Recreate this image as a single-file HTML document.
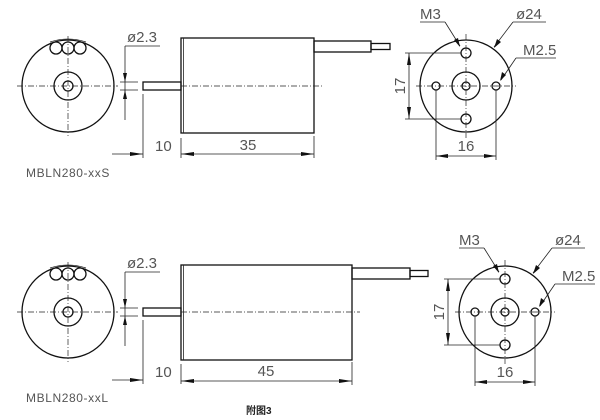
<!DOCTYPE html>
<html><head><meta charset="utf-8"><style>
html,body{margin:0;padding:0;background:#fff;width:600px;height:420px;overflow:hidden}
svg{display:block}
text{font-family:"Liberation Sans","Noto Sans CJK SC",sans-serif;fill:#333}
.l{stroke:#111;stroke-width:1.3;fill:none}
.t{stroke:#222;stroke-width:0.8;fill:none}
.d{stroke:#222;stroke-width:0.7;fill:none;stroke-dasharray:6,2,1,2}
.a{fill:#111;stroke:none}
.lab{font-size:15px;fill:#555}
.mod{font-size:12px;fill:#555;letter-spacing:0.6px}
</style></head><body>
<svg width="600" height="420" viewBox="0 0 600 420" xmlns="http://www.w3.org/2000/svg">
<defs>
<g id="front">
  <circle cx="68" cy="0" r="46" class="l"/>
  <circle cx="68" cy="0" r="14" class="l"/>
  <circle cx="68" cy="0" r="5" class="l"/>
  <circle cx="56" cy="-38" r="6" class="l"/>
  <circle cx="68" cy="-38" r="6" class="l"/>
  <circle cx="80" cy="-38" r="6" class="l"/>
  <path d="M50,-44 Q68,-50 86,-44" class="t"/>
  <line x1="68" y1="-50" x2="68" y2="50" class="d"/>
  <line x1="17" y1="0" x2="118" y2="0" class="d"/>
  <line x1="125" y1="-40" x2="125" y2="34" class="t"/>
  <line x1="125" y1="-40" x2="160" y2="-40" class="t"/>
  <line x1="120" y1="-4" x2="138" y2="-4" class="t"/>
  <line x1="120" y1="4" x2="138" y2="4" class="t"/>
  <polygon points="125,-4 123,-13 127,-13" class="a"/>
  <polygon points="125,4 123,13 127,13" class="a"/>
  <text x="127" y="-44" class="lab">ø2.3</text>
  <rect x="143" y="-4" width="38" height="8" class="l"/>
  <line x1="143" y1="8" x2="143" y2="72" class="t"/>
  <line x1="112" y1="68" x2="143" y2="68" class="t"/>
  <polygon points="143,68 130,66 130,70" class="a"/>
  <text x="155" y="65" class="lab">10</text>
  <line x1="181" y1="52" x2="181" y2="72" class="t"/>
</g>
<g id="rear">
  <circle cx="0" cy="0" r="46" class="l"/>
  <circle cx="0" cy="0" r="14" class="l"/>
  <circle cx="0" cy="0" r="4" class="l"/>
  <circle cx="0" cy="-33" r="5" class="l"/>
  <circle cx="0" cy="33" r="5" class="l"/>
  <circle cx="-30" cy="0" r="4" class="l"/>
  <circle cx="30" cy="0" r="4" class="l"/>
  <line x1="0" y1="-52" x2="0" y2="52" class="d"/>
  <line x1="-50" y1="0" x2="50" y2="0" class="d"/>
  <line x1="-61" y1="-33" x2="-5" y2="-33" class="t"/>
  <line x1="-61" y1="33" x2="-5" y2="33" class="t"/>
  <line x1="-57" y1="-33" x2="-57" y2="33" class="t"/>
  <polygon points="-57,-33 -59,-21 -55,-21" class="a"/>
  <polygon points="-57,33 -59,21 -55,21" class="a"/>
  <text transform="translate(-61,0) rotate(-90)" text-anchor="middle" class="lab">17</text>
  <line x1="-30" y1="4" x2="-30" y2="74" class="t"/>
  <line x1="30" y1="4" x2="30" y2="74" class="t"/>
  <line x1="-30" y1="70" x2="30" y2="70" class="t"/>
  <polygon points="-30,70 -18,68 -18,72" class="a"/>
  <polygon points="30,70 18,68 18,72" class="a"/>
  <text x="0" y="65" text-anchor="middle" class="lab">16</text>
  <text x="-46" y="-67" class="lab">M3</text>
  <line x1="-46" y1="-64" x2="-21" y2="-64" class="t"/>
  <line x1="-21" y1="-64" x2="-6" y2="-40" class="t"/>
  <polygon points="-6,-39 -12,-46 -8,-48" class="a"/>
  <text x="50" y="-67" class="lab">ø24</text>
  <line x1="47" y1="-64" x2="80" y2="-64" class="t"/>
  <line x1="47" y1="-64" x2="28" y2="-39" class="t"/>
  <polygon points="28,-38 31,-47 35,-44" class="a"/>
  <text x="57" y="-31" class="lab">M2.5</text>
  <line x1="50" y1="-28" x2="90" y2="-28" class="t"/>
  <line x1="50" y1="-28" x2="35" y2="-6" class="t"/>
  <polygon points="34,-5 36,-14 40,-11" class="a"/>
</g>
</defs>

<g transform="translate(0,86)"><use href="#front"/></g>
<rect x="181" y="38" width="133" height="95" class="l"/>
<line x1="183.5" y1="38" x2="183.5" y2="133" class="t"/>
<line x1="181" y1="86" x2="322" y2="86" class="d"/>
<rect x="314" y="41" width="57" height="11" class="l"/>
<rect x="371" y="43.5" width="19" height="6" class="l"/>
<line x1="314" y1="136" x2="314" y2="158" class="t"/>
<line x1="181" y1="154" x2="314" y2="154" class="t"/>
<polygon points="181,154 194,152 194,156" class="a"/>
<polygon points="314,154 301,152 301,156" class="a"/>
<text x="248" y="150" text-anchor="middle" class="lab">35</text>
<text x="26" y="177" class="mod">MBLN280-xxS</text>
<g transform="translate(466,86)"><use href="#rear"/></g>

<g transform="translate(0,312)"><use href="#front"/></g>
<rect x="181" y="265" width="171" height="95" class="l"/>
<line x1="183.5" y1="265" x2="183.5" y2="360" class="t"/>
<line x1="181" y1="312" x2="360" y2="312" class="d"/>
<rect x="352" y="268" width="58" height="11" class="l"/>
<rect x="410" y="270.5" width="18" height="6" class="l"/>
<line x1="352" y1="362" x2="352" y2="385" class="t"/>
<line x1="181" y1="381" x2="352" y2="381" class="t"/>
<polygon points="181,381 194,379 194,383" class="a"/>
<polygon points="352,381 339,379 339,383" class="a"/>
<text x="266" y="376" text-anchor="middle" class="lab">45</text>
<text x="26" y="402" class="mod">MBLN280-xxL</text>
<text x="246" y="414" style="font-size:10px;fill:#222;font-weight:bold">附图3</text>
<g transform="translate(505,312)"><use href="#rear"/></g>
</svg>
</body></html>
